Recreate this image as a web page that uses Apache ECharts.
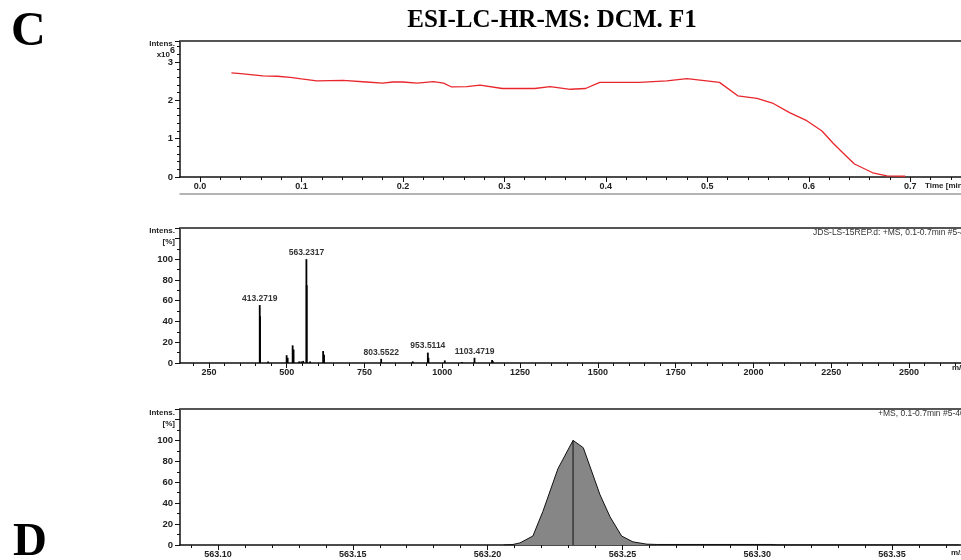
<!DOCTYPE html>
<html><head><meta charset="utf-8">
<script src="https://cdn.jsdelivr.net/npm/echarts@6/dist/echarts.min.js"></script>
<style>html,body{margin:0;padding:0;background:#fff}#c{width:961px;height:560px}</style>
</head><body><div id="c"></div>
<script>
// ---- Panel 1: total ion chromatogram (Intens. x10^6 vs Time [min])
const ticTime = [0.031,0.04,0.062,0.076,0.089,0.10,0.115,0.141,0.164,0.18,0.19,0.20,0.214,0.23,0.24,0.248,0.263,0.276,0.298,0.33,0.345,0.365,0.38,0.394,0.433,0.46,0.48,0.512,0.53,0.549,0.565,0.581,0.598,0.613,0.624,0.634,0.645,0.663,0.677,0.695];
const ticInt  = [2.72,2.70,2.64,2.63,2.60,2.56,2.51,2.52,2.48,2.45,2.48,2.48,2.45,2.49,2.45,2.35,2.36,2.40,2.31,2.31,2.36,2.29,2.31,2.47,2.47,2.51,2.57,2.47,2.12,2.05,1.92,1.68,1.47,1.20,0.88,0.62,0.34,0.11,0.03,0.02];
const timeTicks = [0.0,0.1,0.2,0.3,0.4,0.5,0.6,0.7];
const timeMinor = [-0.02,0.02,0.04,0.06,0.08,0.12,0.14,0.16,0.18,0.22,0.24,0.26,0.28,0.32,0.34,0.36,0.38,0.42,0.44,0.46,0.48,0.52,0.54,0.56,0.58,0.62,0.64,0.66,0.68,0.72,0.74];

// ---- Panel 2: full mass spectrum (Intens. [%] vs m/z)
const msMz  = [413.2719,414.27,440,499.7,503,519,522,540,547,553,563.2317,564.23,575,617,620,803.5522,905,953.5114,955.5,1008,1063,1103.4719,1160,1162];
const msInt = [55.8,45,1.5,7.5,5,17,13,1.5,1.5,2,100,75,1.5,11.5,8,4,1.5,10,5,2.5,1,5,3,2];
const labeledPeaks = [413.2719,563.2317,803.5522,953.5114,1103.4719];
const mzTicks = [250,500,750,1000,1250,1500,1750,2000,2250,2500];
const mzMinor = [200,300,350,400,450,550,600,650,700,800,850,900,950,1050,1100,1150,1200,1300,1350,1400,1450,1550,1600,1650,1700,1800,1850,1900,1950,2050,2100,2150,2200,2300,2350,2400,2450,2550,2600,2650];

// ---- Panel 3: zoomed isotope profile around 563.2317
const profMz  = [563.2060,563.2094,563.2120,563.2168,563.2205,563.2261,563.2317,563.2355,563.2417,563.2454,563.2497,563.2539,563.2591,563.2630,563.3059,563.3080,563.3750];
const profInt = [0,0.5,2,8.6,32,73,100,93,48,27,8.6,3,0.8,0.5,0.5,0,0];
const centroidMz = 563.2317, centroidInt = 100;
const zoomTicks = [563.10,563.15,563.20,563.25,563.30,563.35];
const zoomMinor = [563.09,563.11,563.12,563.13,563.14,563.16,563.17,563.18,563.19,563.21,563.22,563.23,563.24,563.26,563.27,563.28,563.29,563.31,563.32,563.33,563.34,563.36,563.37];

const FONT = "'Liberation Sans', Arial, sans-serif";
const SERIF = "'Liberation Serif', 'Times New Roman', serif";
const grids = [
  {left:180, top:41, width:781, height:136},
  {left:180, top:228, width:781, height:135},
  {left:180, top:409, width:781, height:136}
];
function xAxesFor(g, min, max, major, minor, fmt, extraLine) {
  const base = {type:'value', gridIndex:g, min:min, max:max, splitLine:{show:false}};
  const arr = [
    Object.assign({}, base, {position:'bottom',
      axisLine:{show:true, onZero:false, lineStyle:{color:'#111', width:1.5}},
      axisTick:{show:true, customValues:major, length:5, lineStyle:{color:'#111', width:1}},
      axisLabel:{show:true, customValues:major, formatter:fmt, fontSize:9, fontWeight:'bold', color:'#222', fontFamily:FONT, margin:5}}),
    Object.assign({}, base, {position:'bottom',
      axisLine:{show:false, onZero:false},
      axisTick:{show:true, customValues:minor, length:3, lineStyle:{color:'#111', width:1}},
      axisLabel:{show:false}}),
    Object.assign({}, base, {position:'top',
      axisLine:{show:true, onZero:false, lineStyle:{color:'#555', width:2}},
      axisTick:{show:false}, axisLabel:{show:false}})
  ];
  if (extraLine) arr.push(Object.assign({}, base, {position:'bottom', offset:17,
      axisLine:{show:true, onZero:false, lineStyle:{color:'#9a9a9a', width:1.5}},
      axisTick:{show:false}, axisLabel:{show:false}}));
  return arr;
}
function yAxisFor(g, max, interval, minorSplit, hide) {
  return {type:'value', gridIndex:g, min:0, max:max, interval:interval, position:'left',
    axisLine:{show:true, onZero:false, lineStyle:{color:'#111', width:1.5}},
    axisTick:{show:true, length:5, lineStyle:{color:'#111', width:1}},
    minorTick:{show:true, splitNumber:minorSplit, length:3, lineStyle:{color:'#111', width:1}},
    splitLine:{show:false}, minorSplitLine:{show:false},
    axisLabel:{fontSize:9.5, fontWeight:'bold', color:'#222', fontFamily:FONT, margin:7,
      formatter: v => (v >= hide) ? '' : String(v)}};
}
const xA = [].concat(
  xAxesFor(0, -0.0197, 0.75, timeTicks, timeMinor, v => v.toFixed(1), true),   // 0..3
  xAxesFor(1, 157, 2667, mzTicks, mzMinor, v => String(Math.round(v)), false), // 4..6
  xAxesFor(2, 563.0859, 563.3756, zoomTicks, zoomMinor, v => v.toFixed(2), false) // 7..9
);
const yA = [yAxisFor(0, 3.55, 1, 5, 3.5), yAxisFor(1, 130, 20, 2, 120), yAxisFor(2, 130, 20, 2, 120)];

const peakLabel = {show:true, position:'top', distance:2, fontSize:8.5, fontWeight:'bold', color:'#333', fontFamily:FONT,
  formatter: p => p.value[0].toFixed(4)};
const msData = msMz.map((m, i) => labeledPeaks.includes(m)
  ? {value:[m, msInt[i]], label:peakLabel} : {value:[m, msInt[i]]});

function txt(x, y, s, o) {
  return {type:'text', x:x, y:y, silent:true, style:Object.assign({text:s, fill:'#222', font:"bold 8px " + FONT,
    textAlign:'right', textVerticalAlign:'middle'}, o || {})};
}
const graphics = [
  txt(11, 33, 'C', {font:"bold 48px " + SERIF, fill:'#000', textAlign:'left'}),
  txt(13, 543, 'D', {font:"bold 47px " + SERIF, fill:'#000', textAlign:'left'}),
  txt(552, 21, 'ESI-LC-HR-MS: DCM. F1', {font:"bold 25px " + SERIF, fill:'#000', textAlign:'center'}),
  txt(175, 44, 'Intens.'),
  txt(170, 55, 'x10', {font:"bold 8px " + FONT}),
  txt(170, 51, '6', {font:"bold 9px " + FONT, textAlign:'left'}),
  txt(925, 186, 'Time [min]', {textAlign:'left', font:"bold 8px " + FONT}),
  txt(175, 231, 'Intens.'),
  txt(175, 242, '[%]'),
  txt(813, 233, 'JDS-LS-15REP.d: +MS, 0.1-0.7min #5-40', {textAlign:'left', font:"8.5px " + FONT, fill:'#333'}),
  txt(952, 368, 'm/z', {textAlign:'left'}),
  txt(175, 413, 'Intens.'),
  txt(175, 424, '[%]'),
  txt(878, 414, '+MS, 0.1-0.7min #5-40', {textAlign:'left', font:"8.5px " + FONT, fill:'#333'}),
  txt(951, 553, 'm/z', {textAlign:'left'})
];

const chart = echarts.init(document.getElementById('c'), null, {renderer:'canvas'});
chart.setOption({
  animation:false,
  backgroundColor:'#fff',
  grid:grids,
  xAxis:xA,
  yAxis:yA,
  graphic:graphics,
  series:[
    {type:'line', xAxisIndex:0, yAxisIndex:0, data:ticTime.map((t,i)=>[t, ticInt[i]]),
      symbol:'none', lineStyle:{color:'#e8262c', width:1.3}},
    {type:'bar', xAxisIndex:4, yAxisIndex:1, data:msData, barWidth:1.8,
      itemStyle:{color:'#000'}},
    {type:'line', xAxisIndex:7, yAxisIndex:2, data:profMz.map((m,i)=>[m, profInt[i]]),
      symbol:'none', lineStyle:{color:'#111', width:1},
      areaStyle:{color:'#868686', opacity:1}},
    {type:'line', xAxisIndex:7, yAxisIndex:2, data:[[centroidMz,0],[centroidMz,centroidInt]],
      symbol:'none', lineStyle:{color:'#111', width:1},
      label:{show:true, position:'top', distance:4, fontSize:8.5, fontWeight:'bold', color:'#333', fontFamily:FONT,
        formatter: p => p.dataIndex === 1 ? p.value[0].toFixed(4) : ''}}
  ]
});
</script></body></html>
